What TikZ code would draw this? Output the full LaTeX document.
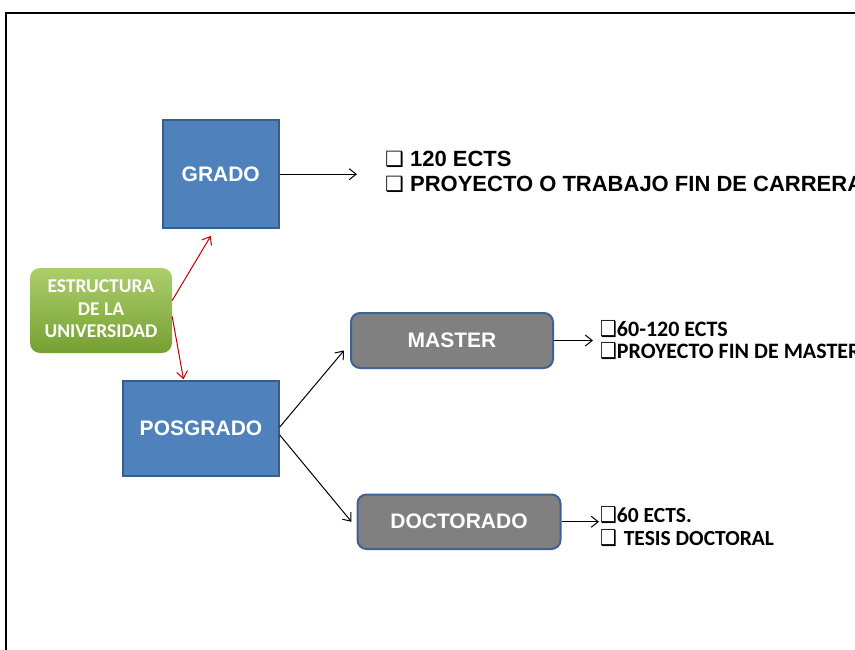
\documentclass[tikz,border=0pt]{standalone}
\usepackage{fontspec}
\usepackage{graphicx}
\setmainfont{Liberation Sans}
\newfontfamily\carlito{Carlito}
\newfontfamily\symfont{DejaVu Sans}
\usetikzlibrary{arrows.meta,calc}
\definecolor{boxblue}{RGB}{79,129,189}
\definecolor{boxborder}{RGB}{56,93,138}
\definecolor{boxgray}{RGB}{128,128,128}
\definecolor{grayborder}{RGB}{62,98,148}
\definecolor{arrred}{RGB}{192,0,0}
\definecolor{greentop}{RGB}{172,206,108}
\definecolor{greenbot}{RGB}{118,160,50}
\newcommand\boxsymA{{\symfont\fontsize{21}{21}\selectfont ❑}}
\newcommand\boxsymB{{\symfont\fontsize{22}{22}\selectfont\scalebox{0.85}[1]{❑}}}
\tikzset{
  bluebox/.style={draw=boxborder, line width=1.5pt, fill=boxblue, text=white,
    font=\bfseries\fontsize{21}{24}\selectfont, inner sep=0pt},
  graybox/.style={draw=grayborder, line width=2pt, fill=boxgray, text=white,
    rounded corners=9pt, font=\bfseries\fontsize{21}{24}\selectfont, inner sep=0pt},
  greenbox/.style={rounded corners=10pt, top color=greentop, bottom color=greenbot,
    text=white, align=center, inner sep=0pt,
    font=\carlito\bfseries\fontsize{19.5}{22.5}\selectfont},
  infotext/.style={anchor=north west, inner sep=0pt, text=black},
  blk/.style={draw=black, line width=1pt, -{Straight Barb[length=7pt,width=11pt]}},
  redarr/.style={draw=arrred, line width=1pt, -{Straight Barb[length=7pt,width=11pt]}},
}
\begin{document}
\begin{tikzpicture}[x=1pt,y=-1pt]
\useasboundingbox (0,0) rectangle (855,650);
\draw[line width=2pt] (6,660) -- (6,13) -- (870,13);

\node[greenbox, minimum width=142pt, minimum height=85pt] (estr) at (101,310.5)
  {\raisebox{-4.5pt}{\begin{tabular}{@{}c@{}}ESTRUCTURA\\DE LA\\UNIVERSIDAD\end{tabular}}};
\node[bluebox, minimum width=116pt, minimum height=108pt] (grado) at (220.75,174.2) {GRADO};
\node[bluebox, minimum width=156pt, minimum height=95pt] (pos) at (201,428.5) {POSGRADO};
\node[graybox, minimum width=202pt, minimum height=55pt] (master) at (452,340.5) {MASTER};
\node[graybox, minimum width=203pt, minimum height=54.5pt] (doc) at (459,521.75) {DOCTORADO};

\node[infotext, font=\bfseries\fontsize{22}{25}\selectfont] (gtext) at (385,149)
  {\begin{tabular}{@{}l@{}}\boxsymA\ 120 ECTS\\ \boxsymA\ PROYECTO O TRABAJO FIN DE CARRERA\end{tabular}};
\node[infotext, font=\carlito\bfseries\fontsize{22}{21.7}\selectfont] (mtext) at (600,320.1)
  {\begin{tabular}{@{}l@{}}\boxsymB60-120 ECTS\\ \boxsymB PROYECTO FIN DE MASTER\end{tabular}};
\node[infotext, font=\carlito\bfseries\fontsize{21.5}{22.5}\selectfont] (dtext) at (600,506)
  {\begin{tabular}{@{}l@{}}\boxsymB60 ECTS.\\ \boxsymB\ \hspace{2pt}TESIS DOCTORAL\end{tabular}};

\draw[blk, shorten >=28pt] (grado.east) -- (grado.east -| gtext.west);
\draw[redarr] ($(estr.east)+(0,-10)$) -- ($(grado.south)+(-10,7)$);
\draw[redarr] ($(estr.east)+(0,6)$) -- ($(pos.north)+(-17.5,-1)$);
\draw[blk] ($(pos.east)+(0,-1.5)$) -- ($(master.west)+(-6,10)$);
\draw[blk] ($(pos.east)+(0,6.5)$) -- ($(doc.west)+(-5,0)$);
\draw[blk, shorten >=7pt] (master.east) -- (master.east -| mtext.west);
\draw[blk, shorten >=1pt] (doc.east) -- (doc.east -| dtext.west);
\end{tikzpicture}
\end{document}
